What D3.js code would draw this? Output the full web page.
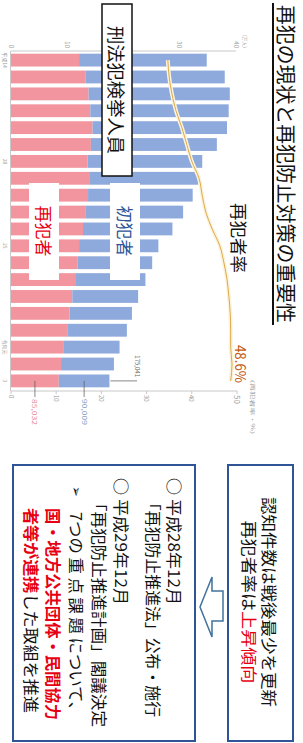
<!DOCTYPE html>
<html lang="ja">
<head>
<meta charset="UTF-8">
<title>再犯の現状と再犯防止対策の重要性</title>
<script src="https://cdn.jsdelivr.net/npm/d3@7"></script>
<style>
  body { margin: 0; background: #fff; }
  svg { display: block; }
</style>
</head>
<body>
<svg id="main" width="303" height="743"></svg>
<script>
// data (万人 / %)
const years = ['平成14','15','16','17','18','19','20','21','22','23','24','25','26','27','28','29','30','令和元','2','3'];
const repeatOffenders = [12.1, 13.3, 13.8, 14.1, 14.5, 14.2, 13.6, 13.9, 13.7, 13.2, 12.8, 12.1, 11.8, 11.4, 10.9, 10.4, 10.0, 9.4, 8.9, 8.5];
const firstOffenders  = [22.7, 24.7, 25.1, 24.6, 23.9, 22.4, 20.4, 19.4, 18.6, 17.4, 15.9, 14.1, 13.3, 12.5, 11.7, 11.1, 10.6, 9.9, 9.4, 9.0];
const repeatRate      = [34.7, 35.0, 35.6, 36.5, 37.8, 38.9, 40.0, 41.6, 42.3, 43.1, 44.5, 46.2, 47.1, 47.8, 48.2, 48.5, 48.6, 48.6, 48.9, 48.6];
const shownYears = ['平成14', '20', '25', '令和元', '3'];
const countTicks = [0, 10, 30, 40];
const rateTicks = [0, 10, 20, 30, 40, 50];

const JP = '"Noto Sans CJK JP", "Noto Sans", sans-serif';
const RED = '#e60012', BLUE_T = '#2f5597', FRAME = '#2f5597';

const svg = d3.select('#main');
// the page is laid out landscape and turned a quarter clockwise
const g = svg.append('g').attr('transform', 'translate(303,0) rotate(90)');

const x = d3.scaleBand().domain(years).range([52, 389]).paddingInner(0.24).paddingOuter(0.1);
const y = d3.scaleLinear().domain([0, 40]).range([292, 67]);
const yRate = d3.scaleLinear().domain([0, 50]).range([292, 66]);

function label(parent, txt, px, py, size, color, opts) {
    opts = opts || {};
    const t = parent.append('text')
        .attr('x', px).attr('y', py)
        .attr('font-family', JP)
        .attr('font-size', size)
        .attr('fill', color)
        .attr('dominant-baseline', 'central')
        .attr('text-anchor', opts.anchor || 'start')
        .attr('font-weight', opts.weight || 'normal')
        .text(txt);
    if (opts.len) t.attr('textLength', opts.len).attr('lengthAdjust', 'spacingAndGlyphs');
    return t;
}

// ---- chart ----
const chart = g.append('g');

// axes lines
chart.append('line').attr('x1', 51).attr('x2', 51).attr('y1', y(0)).attr('y2', y(40))
    .attr('stroke', '#c8c8c8').attr('stroke-width', 1);
chart.append('line').attr('x1', 51).attr('x2', 391).attr('y1', y(0) + 0.5).attr('y2', y(0) + 0.5)
    .attr('stroke', '#c8c8c8').attr('stroke-width', 1);
chart.append('line').attr('x1', 391).attr('x2', 391).attr('y1', yRate(0)).attr('y2', yRate(50))
    .attr('stroke', '#c8c8c8').attr('stroke-width', 1);

countTicks.forEach(v => label(chart, v, 48, y(v), 6, '#9a9a9a', {anchor: 'end'}));
label(chart, '(万人)', 48, y(40) - 9, 5, '#9a9a9a', {anchor: 'end'});

rateTicks.forEach(v => {
    chart.append('line').attr('x1', 391).attr('x2', 394).attr('y1', yRate(v)).attr('y2', yRate(v))
        .attr('stroke', '#c8c8c8');
    label(chart, v, 395, yRate(v), v === 50 ? 8 : 6, '#9a9a9a');
});
label(chart, '（再犯者率・%）', 375, 50, 5, '#9a9a9a', {len: 64});

shownYears.forEach(v => label(chart, v, x(v) + x.bandwidth() / 2, 298, 5, '#9a9a9a', {anchor: 'middle'}));

// stacked bars
const rows = years.map((yr, i) => ({yr, rep: repeatOffenders[i], first: firstOffenders[i], rate: repeatRate[i]}));

chart.selectAll('.rep').data(rows).join('rect')
    .attr('class', 'rep')
    .attr('x', d => x(d.yr)).attr('width', x.bandwidth())
    .attr('y', d => y(d.rep)).attr('height', d => y(0) - y(d.rep))
    .attr('fill', '#f2959e');
chart.selectAll('.first').data(rows).join('rect')
    .attr('class', 'first')
    .attr('x', d => x(d.yr)).attr('width', x.bandwidth())
    .attr('y', d => y(d.rep + d.first)).attr('height', d => y(d.rep) - y(d.rep + d.first))
    .attr('fill', '#8eaadc');

// rate line
const rateLine = d3.line().x(d => x(d.yr) + x.bandwidth() / 2).y(d => yRate(d.rate)).curve(d3.curveMonotoneX);
chart.append('path').datum(rows).attr('d', rateLine)
    .attr('fill', 'none').attr('stroke', '#fcf3dc').attr('stroke-width', 4).attr('stroke-linejoin', 'round');
chart.append('path').datum(rows).attr('d', rateLine)
    .attr('fill', 'none').attr('stroke', '#dcaa4c').attr('stroke-width', 1).attr('stroke-linejoin', 'round');

// last bar call-outs
const last = rows[rows.length - 1];
const cx = x(last.yr) + x.bandwidth() / 2;
chart.append('line').attr('x1', cx).attr('x2', cx).attr('y1', y(last.rep + last.first) - 1).attr('y2', 166)
    .attr('stroke', '#555').attr('stroke-width', 0.7);
label(chart, '175,041', 377, 166, 6, '#666', {anchor: 'end'});
[[last.rep / 2, '85,032', '#e88595'], [last.rep + last.first / 2, '90,009', '#8098c0']].forEach(([v, t, c]) => {
    chart.append('line').attr('x1', cx).attr('x2', 397).attr('y1', y(v)).attr('y2', y(v))
        .attr('stroke', '#555').attr('stroke-width', 0.7);
    label(chart, t, 399, y(v), 6, c, {len: 26});
});

// labels on the chart
g.append('rect').attr('x', 4).attr('y', 171).attr('width', 172).attr('height', 30)
    .attr('fill', '#fff').attr('stroke', '#111').attr('stroke-width', 1.5);
label(g, '刑法犯検挙人員', 90, 186, 18, '#111', {anchor: 'middle', len: 128});

g.append('rect').attr('x', 183).attr('y', 163).attr('width', 97).attr('height', 30).attr('fill', '#fff');
label(g, '初犯者', 231, 178, 17, BLUE_T, {anchor: 'middle'});
g.append('rect').attr('x', 183).attr('y', 244).attr('width', 97).attr('height', 30).attr('fill', '#fff');
label(g, '再犯者', 231, 259, 17, RED, {anchor: 'middle'});

label(g, '再犯者率', 203, 64, 17, '#111', {len: 70});
label(g, '48.6%', 345, 62, 15, '#c55a11', {len: 38});

// title
label(g, '再犯の現状と再犯防止対策の重要性', 5, 17, 20, '#111', {len: 318});
g.append('line').attr('x1', 3).attr('x2', 325).attr('y1', 30).attr('y2', 30)
    .attr('stroke', '#111').attr('stroke-width', 2);

// ---- bottom panels ----
g.append('rect').attr('x', 465).attr('y', 10).attr('width', 276).attr('height', 65)
    .attr('fill', '#fff').attr('stroke', FRAME).attr('stroke-width', 2);
label(g, '認知件数は戦後最少を更新', 602, 33, 16, '#111', {anchor: 'middle', len: 210});
const l2 = label(g, '', 602, 53, 16, '#111', {anchor: 'middle', len: 163});
l2.append('tspan').text('再犯者率は');
l2.append('tspan').attr('fill', RED).text('上昇傾向');

// hollow arrow pointing to the lower panel
const arrow = [[591, 80], [621, 80], [621, 91], [637, 91], [607, 103], [577, 91], [591, 91]];
g.append('path').attr('d', d3.line()(arrow) + 'Z')
    .attr('fill', '#fff').attr('stroke', '#41719c').attr('stroke-width', 1.5);

g.append('rect').attr('x', 465).attr('y', 108).attr('width', 276).attr('height', 182)
    .attr('fill', '#fff').attr('stroke', FRAME).attr('stroke-width', 2);

label(g, '○ 平成28年12月', 478, 128, 16, '#111', {len: 127});
label(g, '「再犯防止推進法」公布・施行', 495, 149, 16, '#111', {len: 222});
label(g, '○ 平成29年12月', 478, 181, 16, '#111', {len: 127});
label(g, '「再犯防止推進計画」閣議決定', 495, 203, 16, '#111', {len: 232});
label(g, '➢', 486, 226, 13, '#111');
label(g, '7つの 重 点 課 題 について、', 512, 226, 16, '#111', {len: 206});
label(g, '国・地方公共団体・民間協力', 508, 249, 16, RED, {len: 212, weight: 'bold'});
const l7 = label(g, '', 508, 271, 16, '#111', {len: 205});
l7.append('tspan').attr('fill', RED).attr('font-weight', 'bold').text('者等が連携');
l7.append('tspan').text('した取組を推進');
</script>
</body>
</html>
